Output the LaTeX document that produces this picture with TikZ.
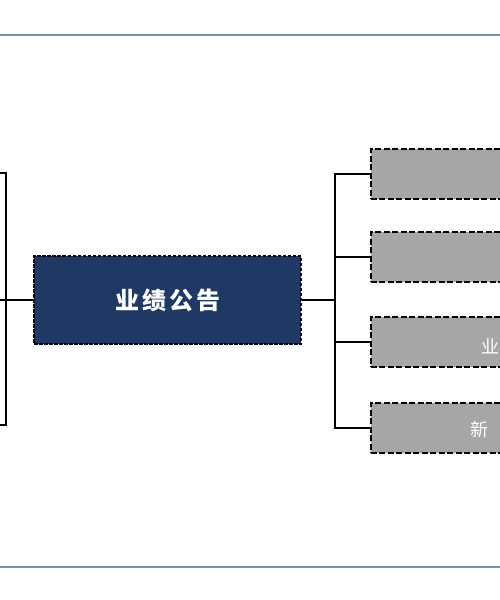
\documentclass[tikz,border=0pt]{standalone}
\usepackage{fontspec}
\newfontfamily\cjk{Noto Sans CJK SC}
\definecolor{navy}{HTML}{1F3864}
\definecolor{boxgray}{HTML}{A6A6A6}
\definecolor{rulecol}{HTML}{7F90A8}
\tikzset{
  rulebar/.style={draw=rulecol, line width=1.8pt},
  conn/.style={draw=black, line width=1.3pt},
  mainbox/.style={draw=black!90!navy, fill=navy, line width=1.5pt, dash pattern=on 3.5pt off 1.5pt,
    minimum width=267pt, minimum height=88pt, inner sep=0pt, text=white,
    font=\cjk\bfseries\fontsize{24}{28}\selectfont},
  graybox/.style={draw=black, fill=boxgray, line width=1.6pt, dash pattern=on 6pt off 2.5pt,
    minimum width=180pt, minimum height=50pt, inner sep=0pt, anchor=west},
  graytext/.style={text=white, inner sep=0pt, anchor=west, font=\cjk\fontsize{18}{22}\selectfont}
}
\begin{document}
\begin{tikzpicture}[x=1pt,y=-1pt]
\useasboundingbox (0,0) rectangle (500,600);
\fill[white] (0,0) rectangle (500,600);
% rules
\coordinate (tl) at (0,35); \coordinate (tr) at (500,35);
\coordinate (bl) at (0,567); \coordinate (br) at (500,567);
\draw[rulebar] (tl) -- (tr);
\draw[rulebar] (bl) -- (br);
% main box
\node[mainbox] (main) at (167.5,300) {业\hspace{3pt}绩\hspace{3pt}公\hspace{3pt}告};
% left bracket
\coordinate (L0) at (0,300);
\coordinate (Lt0) at (0,173); \coordinate (Lt) at (6,173);
\coordinate (Lb0) at (0,425); \coordinate (Lb) at (6,425);
\draw[conn] (Lt0) -- (Lt) -- (Lb) -- (Lb0);
\draw[conn] (L0) -- (main.west);
% right boxes
\node[graybox] (r1) at (370,174) {};
\node[graybox] (r2) at (370,257) {};
\node[graybox] (r3) at (370,342) {};
\node[graybox] (r4) at (370,428) {};
\node[graytext] (t3) at (481,346) {业};
\node[graytext] (t4) at (470,430) {新};
% right bracket
\coordinate (J) at (335,300);
\draw[conn] (main.east) -- (J);
\draw[conn] (r1.west) -| (J |- r4.west) -- (r4.west);
\draw[conn] (J |- r2.west) -- (r2.west);
\draw[conn] (J |- r3.west) -- (r3.west);
\end{tikzpicture}
\end{document}
